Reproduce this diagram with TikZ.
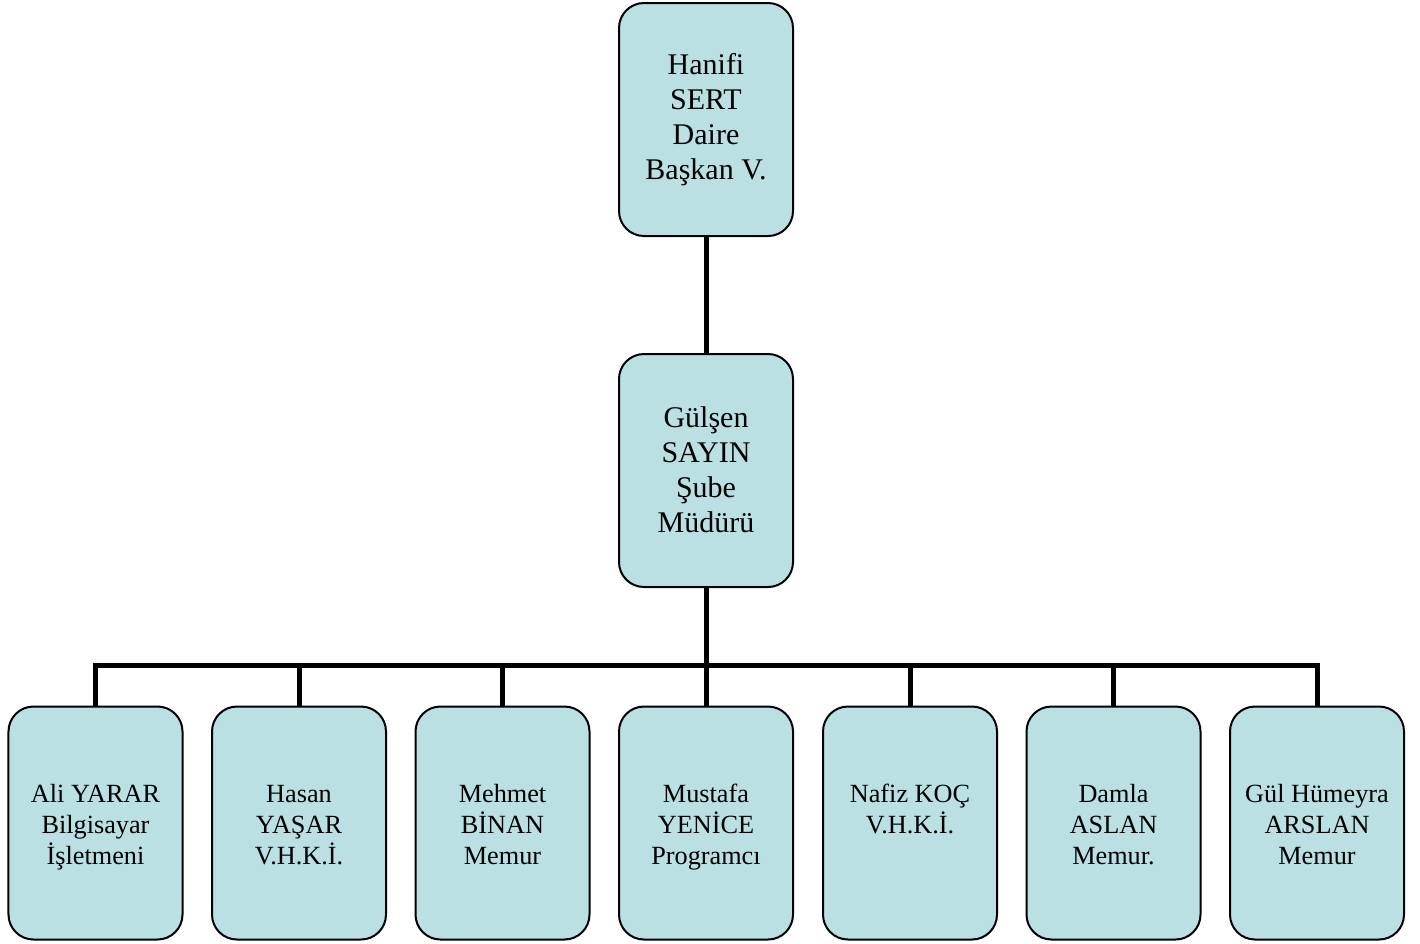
\documentclass[tikz,border=0pt]{standalone}
\usepackage{fontspec}
\setmainfont{Liberation Serif}
\usepackage{tikz}
\usetikzlibrary{positioning}
\definecolor{boxblue}{RGB}{186,224,228}
\newcommand{\topstrut}[1][3.2pt]{\rule{0pt}{\dimexpr0.7\baselineskip+#1\relax}}
\tikzset{>=stealth,
	unit/.style={draw=black, line width=0.8pt, fill=boxblue, rounded corners=10pt,
		minimum width=69.6pt, minimum height=93.2pt, inner sep=0pt, align=center,
		execute at end node=\strut},
	chief/.style={unit, font=\fontsize{12}{14}\selectfont},
	staff/.style={unit, font=\fontsize{10.5}{12.4}\selectfont},
	link/.style={line width=2pt}}

\begin{document}
\begin{tikzpicture}[x=0.4pt, y=0.4pt]
	\useasboundingbox (0,0) rectangle (1420,-943);
	
	\node[chief]	(T0)	at	(706,-119.5)	{\topstrut[0.6pt]Hanifi\\SERT\\Daire\\Başkan V.};
	\node[chief]	(M0)	at	(706,-470.5)	{\topstrut[2pt]Gülşen\\SAYIN\\Şube\\Müdürü};
	\coordinate	(bar)	at	(706,-665);
	\node[staff]	(B1)	at	(95.5,-823)	{\topstrut Ali YARAR\\Bilgisayar\\İşletmeni};
	\node[staff]	(B2)	at	(299,-823)	{\topstrut Hasan\\YAŞAR\\V.H.K.İ.};
	\node[staff]	(B3)	at	(502.5,-823)	{\topstrut Mehmet\\BİNAN\\Memur};
	\node[staff]	(B4)	at	(706,-823)	{\topstrut Mustafa\\YENİCE\\Programcı};
	\node[staff]	(B5)	at	(910,-823)	{\topstrut Nafiz KOÇ\\V.H.K.İ.\\\phantom{X}};
	\node[staff]	(B6)	at	(1113.5,-823)	{\topstrut Damla\\ASLAN\\Memur.};
	\node[staff]	(B7)	at	(1317,-823)	{\topstrut Gül Hümeyra\\ARSLAN\\Memur};
	\draw[link] (T0) -- (M0);
	\draw[link] (M0) -- (bar);
	\foreach \n in {B1,B2,B3,B4,B5,B6,B7}
		\draw[link] (bar) -| (\n.north);
\end{tikzpicture}
\end{document}
